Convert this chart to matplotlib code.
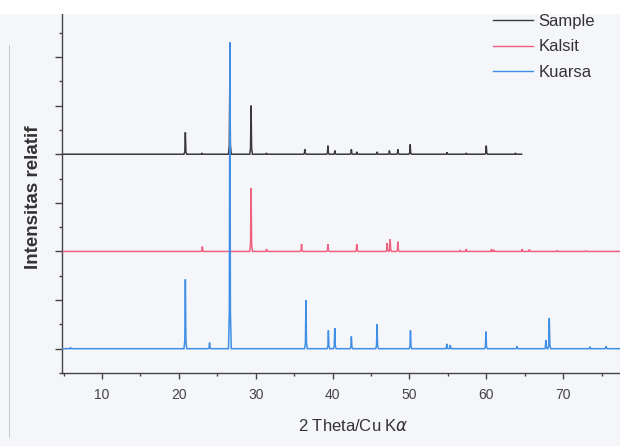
import matplotlib
matplotlib.use("Agg")
import matplotlib.pyplot as plt
from matplotlib.patches import Rectangle
from matplotlib.lines import Line2D
from matplotlib.ticker import MultipleLocator

# ---- data (peak positions in 2theta, relative heights) ----
series_names = ["Sample", "Kalsit", "Kuarsa"]
series_colors = ["#3a3a3a", "#f0607f", "#3f8fe6"]
baselines = [9.0, 5.0, 1.0]
ranges = [(5.0, 64.6), (5.0, 80.0), (4.8, 80.0)]

sample_pos = [20.85, 23.0, 26.64, 29.4, 31.4, 36.4, 39.4, 40.3, 42.45, 43.15,
              45.8, 47.4, 48.5, 50.1, 54.9, 57.4, 60.0, 63.8]
sample_h = [0.9, 0.05, 3.2, 2.0, 0.05, 0.2, 0.35, 0.15, 0.2, 0.1,
            0.1, 0.15, 0.2, 0.4, 0.08, 0.05, 0.35, 0.05]

kalsit_pos = [23.06, 29.4, 31.42, 35.97, 39.4, 43.15, 47.12, 47.5, 48.5,
              56.57, 57.4, 60.68, 61.0, 64.67, 65.6, 69.2, 73.0]
kalsit_h = [0.2, 2.6, 0.1, 0.3, 0.3, 0.3, 0.35, 0.5, 0.4,
            0.05, 0.1, 0.1, 0.07, 0.1, 0.08, 0.04, 0.03]

kuarsa_pos = [5.9, 20.85, 24.0, 26.64, 36.54, 39.46, 40.29, 42.45, 45.79, 50.14,
              54.87, 55.32, 59.96, 64.0, 67.75, 68.2, 73.5, 75.6]
kuarsa_h = [0.05, 2.85, 0.25, 12.6, 2.0, 0.75, 0.85, 0.5, 1.0, 0.75,
            0.2, 0.15, 0.7, 0.1, 0.35, 1.25, 0.08, 0.1]

xticks = [10, 20, 30, 40, 50, 60, 70]
xlabel = r"2 Theta/Cu K$\alpha$"
ylabel = "Intensitas relatif"

peaks = [(sample_pos, sample_h), (kalsit_pos, kalsit_h), (kuarsa_pos, kuarsa_h)]


def profile(pos, h, base, x0, x1, hw=0.18, nw=0.07):
    xs, ys = [x0], [base]
    for p, v in sorted(zip(pos, h)):
        xs += [p - hw, p - nw, p, p + nw, p + hw]
        ys += [base, base + 0.12 * v, base + v, base + 0.12 * v, base]
    xs.append(x1)
    ys.append(base)
    return xs, ys


plt.rcParams['font.family'] = ['Liberation Sans', 'DejaVu Sans']
bg = "#f5f6fa"
fig = plt.figure(figsize=(6.2, 4.46), dpi=100, facecolor=bg)
ax = fig.add_axes([0.1, 0.1637, 0.9, 0.805])
ax.set_facecolor(bg)

for i, ((pos, h), name, col, base, (x0, x1)) in enumerate(
        zip(peaks, series_names, series_colors, baselines, ranges)):
    xs, ys = profile(pos, h, base, x0, x1)
    ax.plot(xs, ys, color=col, lw=1.1, label=name, zorder=2 + i,
            solid_joinstyle='miter')

ax.set_xlim(4.8, 77.4)
ax.set_ylim(0, 14.77)
for s in ['top', 'right']:
    ax.spines[s].set_visible(False)
for s in ['left', 'bottom']:
    ax.spines[s].set_color('#444444')
    ax.spines[s].set_linewidth(1.0)

ax.set_xticks(xticks)
ax.xaxis.set_minor_locator(MultipleLocator(5))
ax.yaxis.set_major_locator(MultipleLocator(2, offset=1))
ax.yaxis.set_minor_locator(MultipleLocator(2))
ax.tick_params(axis='x', which='major', direction='out', length=4, width=1,
               color='#444444', labelsize=10, labelcolor='#444444', pad=7)
ax.tick_params(axis='x', which='minor', direction='out', length=2.5, width=1,
               color='#444444')
ax.tick_params(axis='y', which='major', direction='out', length=5, width=1,
               color='#444444', labelleft=False)
ax.tick_params(axis='y', which='minor', direction='out', length=2.5, width=1,
               color='#444444')

ax.text(0.5215, -0.148, xlabel, transform=ax.transAxes, ha='center',
        va='center', fontsize=12, color='#333333')
ax.text(-0.051, 0.49, ylabel, transform=ax.transAxes, ha='center',
        va='center', rotation=90, fontsize=13.5, fontweight='bold',
        color='#333333')

leg = ax.legend(loc='upper left', bbox_to_anchor=(0.795, 0.9686),
                bbox_transform=fig.transFigure, frameon=False, fontsize=12,
                handlelength=2.4, handletextpad=0.35, labelspacing=0.62,
                borderpad=0, borderaxespad=0)
for t in leg.get_texts():
    t.set_color('#333333')
for l in leg.get_lines():
    l.set_linewidth(1.0)

# scan edges: white band at top and faint page line at left
fig.add_artist(Rectangle((0, 1 - 14 / 446), 1, 14 / 446,
                         transform=fig.transFigure, facecolor='white',
                         edgecolor='none', zorder=100))
fig.add_artist(Line2D([9 / 620, 9 / 620], [0.02, 0.9], transform=fig.transFigure,
                      color='#c8c8c8', lw=0.7, zorder=1))

fig.savefig("out.png", dpi=100, facecolor=bg)
